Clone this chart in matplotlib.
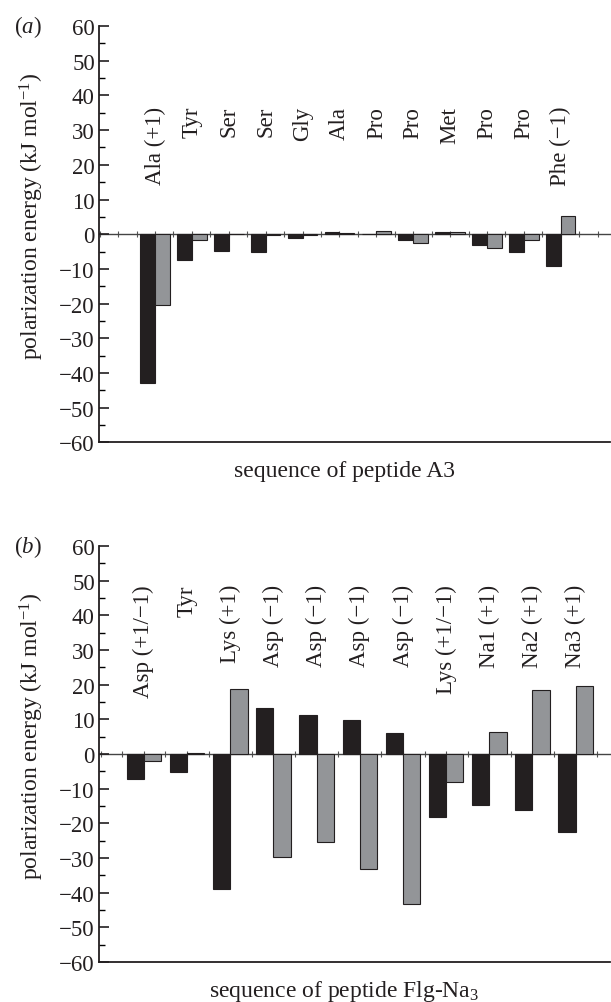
import matplotlib
matplotlib.use("Agg")
import matplotlib.pyplot as plt
import numpy as np
from matplotlib.ticker import MultipleLocator

plt.rcParams['font.family'] = ['Liberation Serif', 'DejaVu Serif']
plt.rcParams['mathtext.fontset'] = 'custom'
plt.rcParams['mathtext.rm'] = 'Liberation Serif'
plt.rcParams['mathtext.it'] = 'Liberation Serif:italic'

# ---- data ----
labels_a = ['Ala (+1)', 'Tyr', 'Ser', 'Ser', 'Gly', 'Ala', 'Pro', 'Pro', 'Met', 'Pro', 'Pro', 'Phe (\u22121)']
black_a = [-43.0, -7.5, -4.7, -5.2, -1.2, 0.6, 0.0, -1.7, 0.5, -3.1, -5.2, -9.2]
grey_a = [-20.3, -1.8, 0.2, -0.3, -0.3, 0.4, 0.9, -2.4, 0.5, -4.1, -1.8, 5.3]

labels_b = ['Asp (+1/\u22121)', 'Tyr', 'Lys (+1)', 'Asp (\u22121)', 'Asp (\u22121)', 'Asp (\u22121)',
            'Asp (\u22121)', 'Lys (+1/\u22121)', 'Na1 (+1)', 'Na2 (+1)', 'Na3 (+1)']
black_b = [-7.3, -5.1, -38.9, 13.2, 11.2, 9.7, 6.1, -18.1, -14.7, -16.3, -22.4]
grey_b = [-2.1, 0.2, 18.6, -29.8, -25.5, -33.1, -43.2, -8.2, 6.2, 18.4, 19.7]

yticks = [-60, -50, -40, -30, -20, -10, 0, 10, 20, 30, 40, 50, 60]

BLACK = '#231f20'
GREY = '#939598'
FS = 16.5

fig = plt.figure(figsize=(6.11, 10.03), dpi=100)

panels = [
    dict(labels=labels_a, black=black_a, grey=grey_a, rect=[0.162, 0.558, 0.836, 0.415],
         xlim=(-1.52, 12.33), label_top=37, xlabel='sequence of peptide A3', tag='a',
         tag_y=0.973),
    dict(labels=labels_b, black=black_b, grey=grey_b, rect=[0.162, 0.040, 0.836, 0.4147],
         xlim=(-1.04, 10.79), label_top=49, xlabel='sequence of peptide Flg-Na$_3$', tag='b',
         tag_y=0.4546),
]

for p in panels:
    ax = fig.add_axes(p['rect'])
    x = np.arange(len(p['labels']))
    w = 0.4
    ax.bar(x - w / 2, p['black'], width=w, color=BLACK, edgecolor=BLACK, linewidth=0.8, zorder=3)
    ax.bar(x + w / 2, p['grey'], width=w, color=GREY, edgecolor=BLACK, linewidth=0.8, zorder=3)
    ax.set_xlim(*p['xlim'])
    ax.set_ylim(-60, 60)
    ax.set_yticks(yticks)
    ax.yaxis.set_minor_locator(MultipleLocator(5))
    ax.tick_params(axis='y', which='major', direction='in', length=7, width=1.2,
                   labelsize=FS, pad=3, colors=BLACK)
    ax.tick_params(axis='y', which='minor', direction='in', length=4, width=1.0)
    ax.set_xticks([])
    for s in ['top', 'right']:
        ax.spines[s].set_visible(False)
    for s in ['left', 'bottom']:
        ax.spines[s].set_linewidth(1.3)
        ax.spines[s].set_color(BLACK)

    # zero line with small cross ticks
    sec = ax.secondary_xaxis(0.5)
    sec.set_xticks(np.arange(np.ceil(p['xlim'][0] * 2) / 2, p['xlim'][1], 0.5))
    sec.tick_params(axis='x', direction='inout', length=4, width=0.8,
                    labelbottom=False, labeltop=False, colors='#555555')
    for s in ['top', 'bottom']:
        sec.spines[s].set_linewidth(1.0)
        sec.spines[s].set_color('#444444')

    for xi, lab in zip(x, p['labels']):
        ax.text(xi, p['label_top'], lab, rotation=90, ha='center', va='top',
                fontsize=FS, color=BLACK)

    ax.set_ylabel('polarization energy (kJ mol$^{\u22121}$)', fontsize=FS + 0.5, color=BLACK)
    ax.yaxis.set_label_coords(-0.104, 0.546)
    ax.set_xlabel(p['xlabel'], fontsize=FS + 0.5, color=BLACK)
    ax.xaxis.set_label_coords(0.48, -0.082)
    ax.xaxis.label.set_verticalalignment('baseline')

    fig.text(0.045, p['tag_y'], '($\\mathit{%s}$)' % p['tag'], fontsize=FS,
             ha='center', va='center', color=BLACK)

fig.savefig('out.png', dpi=100)
